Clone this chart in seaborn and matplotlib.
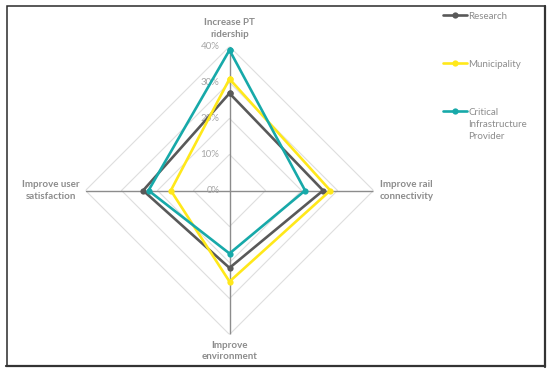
import numpy as np
import pandas as pd
import matplotlib
matplotlib.use("Agg")
import matplotlib.pyplot as plt
import matplotlib.transforms as mtransforms
from matplotlib.lines import Line2D
from matplotlib.patches import Rectangle
import seaborn as sns

# ---- data ----
categories = ["Increase PT\nridership", "Improve rail\nconnectivity",
              "Improve\nenvironment", "Improve user\nsatisfaction"]
series_names = ["Research", "Municipality", "Critical\nInfrastructure\nProvider"]
research = [0.27, 0.26, 0.215, 0.24]
municipality = [0.31, 0.28, 0.253, 0.163]
cip = [0.39, 0.21, 0.175, 0.225]
r_ticks = [0.0, 0.1, 0.2, 0.3, 0.4]
r_tick_labels = ["0%", "10%", "20%", "30%", "40%"]
colors = ["#595959", "#FFE81A", "#17A9A9"]

sns.set_theme(style="white")
plt.rcParams["font.family"] = ["Lato", "DejaVu Sans"]

n = len(categories)
theta = np.linspace(0, 2 * np.pi, n, endpoint=False)
rows = []
for name, vals in zip(series_names, [research, municipality, cip]):
    for t, v in zip(list(theta) + [2 * np.pi], list(vals) + [vals[0]]):
        rows.append({"series": name, "theta": t, "value": v})
df = pd.DataFrame(rows)

fig = plt.figure(figsize=(5.5, 3.73), dpi=100)
W, H = 550, 373
cx, cy, R = 229.5, 190.5, 144
ax = fig.add_axes([(cx - R) / W, (H - cy - R) / H, 2 * R / W, 2 * R / H],
                  projection="polar")
ax.set_theta_zero_location("N")
ax.set_theta_direction(-1)
ax.set_ylim(0, 0.4)
ax.spines["polar"].set_visible(False)
ax.set_facecolor("none")
ax.grid(False)

# polygon gridlines
for lvl in r_ticks[1:]:
    ax.plot(list(theta) + [theta[0]], [lvl] * (n + 1), color="#dedede",
            lw=0.8, zorder=1)
# spokes
for t in theta:
    ax.plot([t, t], [0, 0.4], color="#8c8c8c", lw=1.0, zorder=1.5)

sns.lineplot(data=df, x="theta", y="value", hue="series", palette=colors,
             hue_order=series_names, sort=False, errorbar=None,
             marker="o", markersize=4.5, markeredgewidth=0, linewidth=1.9,
             ax=ax, legend=False, zorder=3)

ax.set_xticks([])
ax.set_yticks([])
ax.set_xlabel("")
ax.set_ylabel("")

# radial tick labels
off = mtransforms.ScaledTranslation(-10 / 100, 0, fig.dpi_scale_trans)
for r, lab in zip(r_ticks, r_tick_labels):
    ax.text(0, r, lab, transform=ax.transData + off, ha="right", va="center",
            fontsize=7.0, color="#a6a6a6", zorder=2)

# category labels
lab_kw = dict(fontsize=7.0, fontweight="bold", color="#8c8c8c",
              multialignment="center", linespacing=1.35)
ax.text(theta[0], 0.422, categories[0], ha="center", va="bottom", **lab_kw)
ax.text(theta[1], 0.418, categories[1], ha="left", va="center",
        **{**lab_kw, "multialignment": "left"})
ax.text(theta[2], 0.418, categories[2], ha="center", va="top", **lab_kw)
ax.text(theta[3], 0.415, categories[3], ha="right", va="center", **lab_kw)

# legend
handles = [Line2D([], [], color=c, lw=1.9, marker="o", markersize=4.5,
                  markeredgewidth=0) for c in colors]
leg = fig.legend(handles, series_names, loc="upper left",
                 bbox_to_anchor=(443 / W, 1 - 12 / H), frameon=False,
                 fontsize=7.0, labelcolor="#8c8c8c", handlelength=2.5,
                 handletextpad=0.1, labelspacing=4.0, borderpad=0,
                 borderaxespad=0)
for col in leg._legend_handle_box.get_children():
    for row in col.get_children():
        row.align = "top"
for t in leg.get_texts():
    t.set_linespacing(1.45)

# outer border, slightly heavier on bottom/right
fig.patches.append(Rectangle((6.5 / W, 1 - 366 / H), 538 / W, 360.5 / H,
                             transform=fig.transFigure, fill=False,
                             edgecolor="#2a2a2a", lw=1.1, zorder=1))
fig.lines.append(Line2D([6 / W, 545 / W], [1 - 366.3 / H, 1 - 366.3 / H],
                        transform=fig.transFigure, color="#333333", lw=1.6))
fig.lines.append(Line2D([544.8 / W, 544.8 / W], [1 - 366.8 / H, 1 - 5.5 / H],
                        transform=fig.transFigure, color="#333333", lw=1.6))

fig.savefig("out.png", dpi=100)
